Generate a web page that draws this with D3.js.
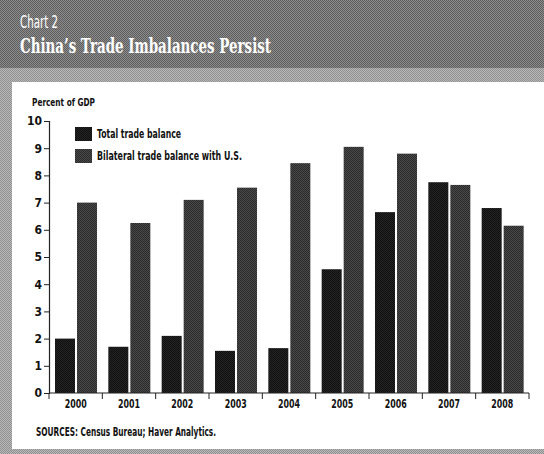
<!DOCTYPE html>
<html>
<head>
<meta charset="utf-8">
<script src="https://cdn.jsdelivr.net/npm/d3@7"></script>
<style>
  body { margin: 0; background: #fff; }
  svg { display: block; }
  .cond { font-family: "DejaVu Sans", sans-serif; font-stretch: condensed; font-weight: bold; fill: #111; }
</style>
</head>
<body>
<svg id="chart"></svg>
<script>
const years = ["2000", "2001", "2002", "2003", "2004", "2005", "2006", "2007", "2008"];
const totalBalance = [2.0, 1.7, 2.1, 1.55, 1.65, 4.55, 6.65, 7.75, 6.8];
const bilateralBalance = [7.0, 6.25, 7.1, 7.55, 8.45, 9.05, 8.8, 7.65, 6.15];
const seriesNames = ["Total trade balance", "Bilateral trade balance with U.S."];
const yTicks = [0, 1, 2, 3, 4, 5, 6, 7, 8, 9, 10];

const width = 544, height = 454;
const svg = d3.select("#chart").attr("width", width).attr("height", height);

// halftone-ish patterns
const defs = svg.append("defs");
function dots(id, bg, fg, size) {
    const p = defs.append("pattern")
        .attr("id", id)
        .attr("width", size).attr("height", size)
        .attr("patternUnits", "userSpaceOnUse");
    p.append("rect").attr("width", size).attr("height", size).attr("fill", bg);
    p.append("rect").attr("width", 1).attr("height", 1).attr("fill", fg);
    p.append("rect").attr("x", size / 2).attr("y", size / 2).attr("width", 1).attr("height", 1).attr("fill", fg);
}
dots("band", "#8c8c8c", "#5e5e5e", 2);
dots("strip", "#b8b8b8", "#909090", 2);
dots("barTotal", "#242424", "#101010", 2);
dots("barBilat", "#4a4a4a", "#2a2a2a", 2);

// frame
svg.append("rect").attr("width", width).attr("height", height).attr("fill", "url(#strip)");
svg.append("rect").attr("width", width).attr("height", 68).attr("fill", "url(#band)");
svg.append("rect").attr("x", 12).attr("y", 82).attr("width", width - 12).attr("height", 367).attr("fill", "#fff");

svg.append("text")
    .attr("x", 20).attr("y", 28)
    .attr("fill", "#fff")
    .attr("font-family", "'DejaVu Sans', sans-serif")
    .attr("font-stretch", "condensed")
    .attr("font-size", 18)
    .attr("textLength", 38)
    .attr("lengthAdjust", "spacingAndGlyphs")
    .text("Chart 2");

svg.append("text")
    .attr("x", 20).attr("y", 53)
    .attr("fill", "#fff")
    .attr("font-family", "'DejaVu Serif', 'Liberation Serif', serif")
    .attr("font-weight", "bold")
    .attr("font-size", 19.5)
    .attr("textLength", 251)
    .attr("lengthAdjust", "spacingAndGlyphs")
    .text("China’s Trade Imbalances Persist");

// plot
const x = d3.scaleBand().domain(years).range([49, 529]).paddingInner(0).paddingOuter(0);
const y = d3.scaleLinear().domain([0, 10]).range([393, 121]);
const barW = 20, gap = 2, pad = 6;

const g = svg.append("g");

g.selectAll("rect.total")
    .data(totalBalance)
    .join("rect")
    .attr("class", "total")
    .attr("x", (d, i) => x(years[i]) + pad)
    .attr("y", d => y(d))
    .attr("width", barW)
    .attr("height", d => y(0) - y(d))
    .attr("fill", "url(#barTotal)");

g.selectAll("rect.bilat")
    .data(bilateralBalance)
    .join("rect")
    .attr("class", "bilat")
    .attr("x", (d, i) => x(years[i]) + pad + barW + gap)
    .attr("y", d => y(d))
    .attr("width", barW)
    .attr("height", d => y(0) - y(d))
    .attr("fill", "url(#barBilat)");

// y axis
const yAxis = svg.append("g")
    .attr("transform", "translate(49,0)")
    .call(d3.axisLeft(y).tickValues(yTicks).tickSize(5).tickPadding(2).tickFormat(d3.format("d")));
yAxis.select(".domain").attr("stroke", "#222").attr("stroke-width", 1.2);
yAxis.selectAll(".tick line").attr("stroke", "#222");
yAxis.selectAll("text")
    .attr("class", "cond")
    .attr("font-size", 12);

// x axis
const xAxis = svg.append("g").attr("transform", `translate(0,${y(0)})`);
xAxis.append("line")
    .attr("x1", 49).attr("x2", 529)
    .attr("stroke", "#222").attr("stroke-width", 1.2);
xAxis.selectAll("line.tick")
    .data(years.concat(["end"]))
    .join("line")
    .attr("class", "tick")
    .attr("x1", (d, i) => i < years.length ? x(d) : x.range()[1])
    .attr("x2", (d, i) => i < years.length ? x(d) : x.range()[1])
    .attr("y1", 0).attr("y2", 6)
    .attr("stroke", "#222");
xAxis.selectAll("text")
    .data(years)
    .join("text")
    .attr("class", "cond")
    .attr("x", d => x(d) + x.bandwidth() / 2)
    .attr("y", 15)
    .attr("text-anchor", "middle")
    .attr("font-size", 12)
    .attr("textLength", 22)
    .attr("lengthAdjust", "spacingAndGlyphs")
    .text(d => d);

// labels
svg.append("text")
    .attr("class", "cond")
    .attr("x", 32).attr("y", 106)
    .attr("font-size", 11)
    .attr("textLength", 63)
    .attr("lengthAdjust", "spacingAndGlyphs")
    .text("Percent of GDP");

const legend = svg.append("g");
const legendFills = ["url(#barTotal)", "url(#barBilat)"];
const legendWidths = [84, 145];
seriesNames.forEach((name, i) => {
    const ly = 127 + i * 22;
    legend.append("rect")
        .attr("x", 75).attr("y", ly)
        .attr("width", 17).attr("height", 14)
        .attr("fill", legendFills[i]);
    legend.append("text")
        .attr("class", "cond")
        .attr("x", 97).attr("y", ly + 11)
        .attr("font-size", 12)
        .attr("textLength", legendWidths[i])
        .attr("lengthAdjust", "spacingAndGlyphs")
        .text(name);
});

svg.append("text")
    .attr("class", "cond")
    .attr("x", 36).attr("y", 436)
    .attr("font-size", 12)
    .attr("textLength", 180)
    .attr("lengthAdjust", "spacingAndGlyphs")
    .text("SOURCES: Census Bureau; Haver Analytics.");
</script>
</body>
</html>
